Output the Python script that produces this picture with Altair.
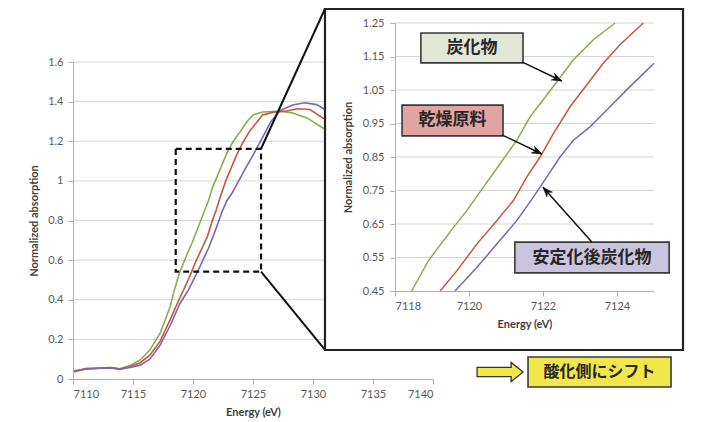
import math
import altair as alt
import pandas as pd

# ---------------- data ----------------
series_names = ["炭化物", "乾燥原料", "安定化後炭化物"]
series_colors = ["#86ad4f", "#c8553d", "#7a68a8"]

carbide_E = [7110.0, 7111.1, 7112.25, 7113.1, 7113.9, 7114.75, 7115.6, 7116.4, 7117.25,
             7118.1, 7118.45, 7118.9, 7119.58, 7119.94, 7120.39, 7120.84, 7121.29,
             7121.65, 7122.0, 7122.41, 7122.82, 7123.36, 7123.95, 7124.5, 7125.0, 7125.8,
             7126.6, 7127.25, 7128.3, 7129.5, 7130.8, 7131.5]
carbide_v = [0.037, 0.054, 0.054, 0.059, 0.052, 0.068, 0.096, 0.146, 0.23,
             0.365, 0.45, 0.54, 0.64, 0.69, 0.76, 0.83, 0.90,
             0.97, 1.02, 1.08, 1.14, 1.20, 1.25, 1.30, 1.333, 1.348,
             1.35, 1.352, 1.343, 1.318, 1.268, 1.245]

dried_E = [7110.0, 7111.1, 7112.25, 7113.1, 7113.9, 7114.75, 7115.6, 7116.4, 7117.25,
           7118.1, 7118.9, 7119.22, 7119.67, 7120.21, 7120.75, 7121.2, 7121.56, 7121.92,
           7122.28, 7122.73, 7123.18, 7123.63, 7124.08, 7124.71, 7125.8, 7126.7, 7127.8,
           7128.7, 7129.75, 7130.8, 7131.5]
dried_v = [0.040, 0.052, 0.055, 0.057, 0.050, 0.062, 0.082, 0.12, 0.19,
           0.30, 0.41, 0.45, 0.51, 0.59, 0.66, 0.72, 0.79, 0.85,
           0.92, 1.0, 1.065, 1.13, 1.185, 1.25, 1.333, 1.347, 1.353,
           1.364, 1.36, 1.318, 1.30]

stab_E = [7110.0, 7111.1, 7112.25, 7113.1, 7113.9, 7114.75, 7115.6, 7116.4, 7117.25,
          7118.1, 7118.9, 7119.62, 7120.21, 7120.75, 7121.29, 7121.74, 7122.1, 7122.46,
          7122.82, 7123.27, 7123.81, 7124.35, 7125.0, 7125.8, 7126.5, 7127.25, 7128.3,
          7129.3, 7130.3, 7131.0, 7131.5]
stab_v = [0.035, 0.050, 0.054, 0.056, 0.050, 0.058, 0.07, 0.10, 0.17,
          0.27, 0.38, 0.45, 0.52, 0.59, 0.66, 0.73, 0.79, 0.85,
          0.90, 0.94, 1.0, 1.06, 1.13, 1.22, 1.30, 1.355, 1.383,
          1.394, 1.385, 1.36, 1.34]

main_x_ticks = [7110, 7115, 7120, 7125, 7130, 7135, 7140]
main_y_ticks = [0, 0.2, 0.4, 0.6, 0.8, 1, 1.2, 1.4, 1.6]
inset_x_ticks = [7118, 7120, 7122, 7124]
inset_y_ticks = [0.45, 0.55, 0.65, 0.75, 0.85, 0.95, 1.05, 1.15, 1.25]

# ---------------- layout ----------------
W, H = 705, 412
MAIN_X = dict(domain=[7110, 7140], rng=[65, 425])
MAIN_Y = dict(domain=[0, 1.6], rng=[371, 54])
IN_X = dict(domain=[7118, 7125], rng=[387, 646])
IN_Y = dict(domain=[0.45, 1.25], rng=[283, 15])

LABEL_FONT = "Lato"
JP_FONT = "Noto Sans CJK JP"


def px(spec, val):
    d0, d1 = spec["domain"]
    r0, r1 = spec["rng"]
    return r0 + (val - d0) / (d1 - d0) * (r1 - r0)


rows = []
for name, Es, vs in zip(series_names, [carbide_E, dried_E, stab_E], [carbide_v, dried_v, stab_v]):
    for e, v in zip(Es, vs):
        rows.append({"series": name, "E": e, "v": v})
curves = pd.DataFrame(rows)

color = alt.Color("series:N", scale=alt.Scale(domain=series_names, range=series_colors), legend=None)

axis_common = dict(grid=False, zindex=1, labelFont=LABEL_FONT, labelFontSize=11, labelColor="#595959",
                   titleFont=LABEL_FONT, titleFontSize=11, titleFontWeight="bold", titleColor="#404040",
                   domainColor="#b0b0b0", tickColor="#b0b0b0", tickSize=5)

mx_scale = alt.Scale(domain=MAIN_X["domain"], range=MAIN_X["rng"], nice=False, zero=False)
my_scale = alt.Scale(domain=MAIN_Y["domain"], range=MAIN_Y["rng"], nice=False, zero=False)
ix_scale = alt.Scale(domain=IN_X["domain"], range=IN_X["rng"], nice=False, zero=False)
iy_scale = alt.Scale(domain=IN_Y["domain"], range=IN_Y["rng"], nice=False, zero=False)

mx_axis = alt.Axis(values=main_x_ticks, format="d", title="Energy (eV)", orient="bottom",
                   offset=MAIN_Y["rng"][0] - H, labelPadding=4, titlePadding=7, **axis_common)
my_axis = alt.Axis(values=main_y_ticks, format="~g", title="Normalized absorption", orient="left",
                   offset=-MAIN_X["rng"][0], labelPadding=5, titlePadding=8, **axis_common)
ix_axis = alt.Axis(values=inset_x_ticks, format="d", title="Energy (eV)", orient="bottom",
                   offset=IN_Y["rng"][0] - H, labelPadding=4, titlePadding=7, **axis_common)
iy_axis = alt.Axis(values=inset_y_ticks, format=".2f", title="Normalized absorption", orient="left",
                   offset=-IN_X["rng"][0], labelPadding=6, titlePadding=9, **axis_common)


def MX(f="E"):
    return alt.X(f"{f}:Q", scale=mx_scale, axis=mx_axis)


def MY(f="v"):
    return alt.Y(f"{f}:Q", scale=my_scale, axis=my_axis)


def IX(f="E"):
    return alt.X(f"{f}:Q", scale=ix_scale, axis=ix_axis)


def IY(f="v"):
    return alt.Y(f"{f}:Q", scale=iy_scale, axis=iy_axis)


# ---------------- main chart ----------------
main_grid = pd.DataFrame({"v": [t for t in main_y_ticks if t > 0]})
main_grid["E"] = MAIN_X["domain"][0]
main_grid["E2"] = MAIN_X["domain"][1]

zoom_box = pd.DataFrame({"E": [7118.56], "E2": [7125.67], "v": [0.542], "v2": [1.162]})
connectors = pd.DataFrame({"E": [7125.67, 7125.67], "E2": [7131.0, 7131.0],
                           "v": [1.162, 0.542], "v2": [1.8687, 0.1465]})

main_layer = alt.layer(
    alt.Chart(main_grid).mark_rule(color="#d5d5d5", strokeWidth=1).encode(x=MX(), x2="E2", y=MY()),
    alt.Chart(curves).mark_line(strokeWidth=1.6).encode(x=MX(), y=MY(), color=color, detail="series:N"),
    alt.Chart(zoom_box).mark_rect(fill="white", fillOpacity=0, stroke="#111111", strokeWidth=2.2,
                                  strokeDash=[6, 4]).encode(x=MX(), x2="E2", y=MY(), y2="v2"),
    alt.Chart(connectors).mark_rule(color="#111111", strokeWidth=2).encode(x=MX(), x2="E2", y=MY(), y2="v2"),
)

# ---------------- inset ----------------
frame = pd.DataFrame({"E": [7116.108], "E2": [7125.784], "v": [0.2739], "v2": [1.2918]})
inset_grid = pd.DataFrame({"v": [t for t in inset_y_ticks if t > IN_Y["domain"][0]]})
inset_grid["E"] = IN_X["domain"][0]
inset_grid["E2"] = IN_X["domain"][1]

label_boxes = pd.DataFrame({
    "text": ["炭化物", "乾燥原料", "安定化後炭化物"],
    "E": [7118.70, 7118.19, 7121.24],
    "E2": [7121.46, 7120.92, 7125.41],
    "v": [1.131, 0.913, 0.504],
    "v2": [1.220, 1.005, 0.596],
})
label_boxes["Ec"] = (label_boxes["E"] + label_boxes["E2"]) / 2
label_boxes["vc"] = (label_boxes["v"] + label_boxes["v2"]) / 2
box_fills = ["#e3e7d9", "#e2a3a3", "#cbc4de"]

arrows = pd.DataFrame({
    "E": [7121.43, 7120.89, 7123.32],
    "v": [1.134, 0.916, 0.596],
    "E2": [7122.51, 7121.97, 7122.00],
    "v2": [1.077, 0.859, 0.760],
})
arrows["ang"] = [
    math.degrees(math.atan2(px(IN_Y, r.v2) - px(IN_Y, r.v), px(IN_X, r.E2) - px(IN_X, r.E))) % 360
    for r in arrows.itertuples()
]

shift_box = pd.DataFrame({"text": ["酸化側にシフト"], "E": [7121.595], "E2": [7125.46],
                          "v": [0.1634], "v2": [0.253]})
shift_box["Ec"] = (shift_box["E"] + shift_box["E2"]) / 2
shift_box["vc"] = (shift_box["v"] + shift_box["v2"]) / 2
block_arrow = pd.DataFrame({"E": [7120.84], "v": [0.208]})

arrowhead = "M0,0L-2,-0.75L-1.4,0L-2,0.75Z"
block_path = "M-1,-0.2L0.48,-0.2L0.48,-0.42L1,0L0.48,0.42L0.48,0.2L-1,0.2Z"

inset_in_range = ((alt.datum.E >= IN_X["domain"][0]) & (alt.datum.E <= IN_X["domain"][1]) &
                  (alt.datum.v >= IN_Y["domain"][0]) & (alt.datum.v <= IN_Y["domain"][1]))

box_layers = []
for i in range(len(label_boxes)):
    one = label_boxes.iloc[[i]]
    box_layers.append(
        alt.Chart(one).mark_rect(fill=box_fills[i], stroke="#3a3a3a", strokeWidth=1.6)
        .encode(x=IX(), x2="E2", y=IY(), y2="v2")
    )

inset_layer = alt.layer(
    alt.Chart(frame).mark_rect(fill="white", stroke="#222222", strokeWidth=2.2)
    .encode(x=IX(), x2="E2", y=IY(), y2="v2"),
    alt.Chart(inset_grid).mark_rule(color="#d5d5d5", strokeWidth=1).encode(x=IX(), x2="E2", y=IY()),
    alt.Chart(curves).transform_filter(inset_in_range).mark_line(strokeWidth=1.5)
    .encode(x=IX(), y=IY(), color=color, detail="series:N"),
    *box_layers,
    alt.Chart(label_boxes).mark_text(font=JP_FONT, fontSize=17, fontWeight="bold", color="#262626",
                                     align="center", baseline="middle")
    .encode(x=IX("Ec"), y=IY("vc"), text="text:N"),
    alt.Chart(arrows).mark_rule(color="#111111", strokeWidth=1.5).encode(x=IX(), x2="E2", y=IY(), y2="v2"),
    alt.Chart(arrows).mark_point(shape=arrowhead, size=100, filled=True, fill="#111111", stroke="#111111",
                                 strokeWidth=0.5, opacity=1)
    .encode(x=IX("E2"), y=IY("v2"), angle=alt.Angle("ang:Q", scale=None)),
    alt.Chart(shift_box).mark_rect(fill="#f1e74a", stroke="#3a3a3a", strokeWidth=1.6)
    .encode(x=IX(), x2="E2", y=IY(), y2="v2"),
    alt.Chart(shift_box).mark_text(font=JP_FONT, fontSize=16, fontWeight="bold", color="#262626",
                                   align="center", baseline="middle")
    .encode(x=IX("Ec"), y=IY("vc"), text="text:N"),
    alt.Chart(block_arrow).mark_point(shape=block_path, size=2116, filled=True, fill="#f1e74a",
                                      stroke="#333333", strokeWidth=1.3, opacity=1)
    .encode(x=IX(), y=IY()),
)

chart = (
    alt.layer(main_layer, inset_layer)
    .resolve_scale(x="independent", y="independent", color="shared")
    .properties(width=W, height=H, padding=0, autosize=alt.AutoSizeParams(type="none"),
                background="white")
    .configure_view(stroke=None)
)

chart.save("out.html", embed_options={"renderer": "svg", "actions": False})
